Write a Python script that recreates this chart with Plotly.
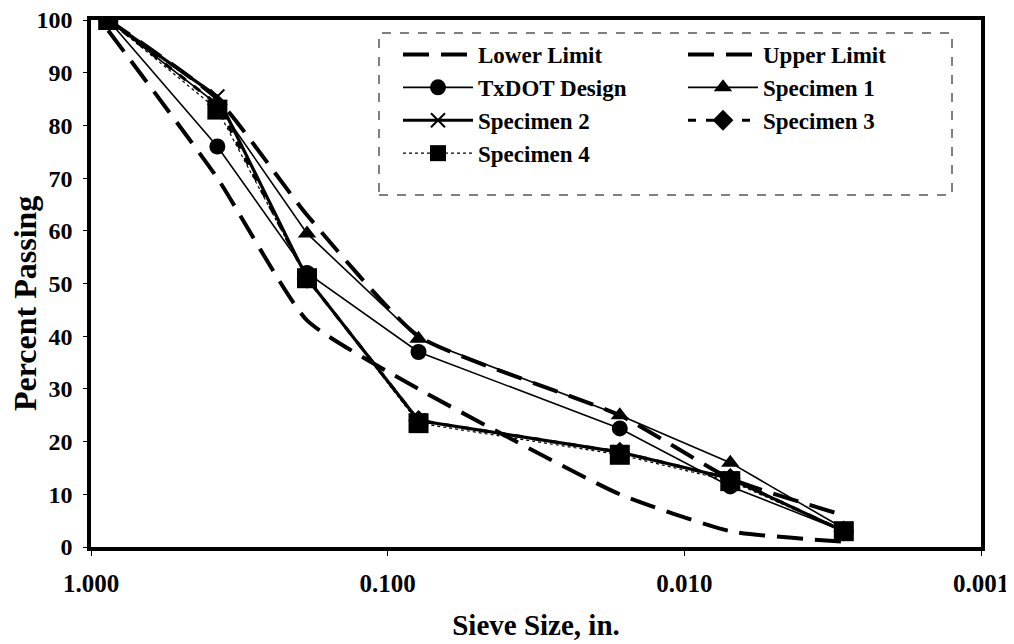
import plotly.graph_objects as go

# Sieve sizes (in.)
sieve_in = [0.875, 0.375, 0.187, 0.0787, 0.0165, 0.0070, 0.0029]

lower_limit = [98, 70, 43, 30, 10, 3, 1]
upper_limit = [100, 85, 63, 40, 25, 13, 6]
txdot_design = [100, 76, 52, 37, 22.5, 11.5, 3]
specimen_1 = [100, 84, 59.5, 39.5, 25, 16, 3.5]
specimen_2 = [100, 85.5, 51, 24, 18, 13, 3]
specimen_3 = [100, 84, 51, 24, 18, 13, 3]
specimen_4 = [100, 83, 51, 23.5, 17.5, 12.5, 3]

x_ticks = [1.0, 0.1, 0.01, 0.001]
x_tick_text = ["1.000", "0.100", "0.010", "0.001"]

# page body has an 8px default margin; compensate so the plot lands where wanted
BODY = 8
SCR_W, SCR_H = 1014, 644
PL, PR, PT, PB = 91, 981, 20, 547          # plot area in screen pixels
W, H = SCR_W - BODY, SCR_H - BODY
ML, MT = PL - BODY, PT - BODY
MR, MB = W - (PR - BODY), H - (PB - BODY)
PW, PH = PR - PL, PB - PT

def px2paper_x(px):
    return (px - PL) / PW

def px2paper_y(py):
    return (PB - py) / PH

FONT = "Liberation Serif"
fig = go.Figure()

fig.add_trace(go.Scatter(x=sieve_in, y=lower_limit, name="Lower Limit", mode="lines", legend="legend",
                         line=dict(color="black", width=4, dash="26px,12px", shape="spline", smoothing=0.5)))
fig.add_trace(go.Scatter(x=sieve_in, y=upper_limit, name="Upper Limit", mode="lines", legend="legend2",
                         line=dict(color="black", width=4, dash="26px,12px", shape="spline", smoothing=0.5)))
fig.add_trace(go.Scatter(x=sieve_in, y=txdot_design, name="TxDOT Design", mode="lines+markers", legend="legend",
                         line=dict(color="black", width=1.6),
                         marker=dict(symbol="circle", size=16, color="black")))
fig.add_trace(go.Scatter(x=sieve_in, y=specimen_1, name="Specimen 1", mode="lines+markers", legend="legend2",
                         line=dict(color="black", width=1.6),
                         marker=dict(symbol="triangle-up", size=16, color="black")))
fig.add_trace(go.Scatter(x=sieve_in, y=specimen_2, name="Specimen 2", mode="lines+markers", legend="legend",
                         line=dict(color="black", width=3.2),
                         marker=dict(symbol="x-thin", size=14, color="black",
                                     line=dict(color="black", width=2))))
fig.add_trace(go.Scatter(x=sieve_in, y=specimen_3, name="Specimen 3", mode="lines+markers", legend="legend2",
                         line=dict(color="black", width=3.2, dash="8px,10px"),
                         marker=dict(symbol="diamond", size=16, color="black")))
fig.add_trace(go.Scatter(x=sieve_in, y=specimen_4, name="Specimen 4", mode="lines+markers", legend="legend",
                         line=dict(color="black", width=1.2, dash="dot"),
                         marker=dict(symbol="square", size=20, color="black")))

legend_common = dict(
    orientation="v", xanchor="left", yanchor="top", itemwidth=70,
    font=dict(family=FONT, size=23, color="black", weight="bold"),
    bgcolor="rgba(255,255,255,0)", borderwidth=0, tracegroupgap=0,
)

fig.update_layout(
    width=W, height=H,
    margin=dict(l=ML, r=MR, t=MT, b=MB, autoexpand=False),
    paper_bgcolor="white", plot_bgcolor="white",
    font=dict(family=FONT, color="black", size=20, weight="bold"),
    showlegend=True,
    legend=dict(x=px2paper_x(398), y=px2paper_y(33), **legend_common),
    legend2=dict(x=px2paper_x(683), y=px2paper_y(33), **legend_common),
    shapes=[dict(type="rect", xref="paper", yref="paper",
                 x0=px2paper_x(379), x1=px2paper_x(952), y0=px2paper_y(195), y1=px2paper_y(33),
                 line=dict(color="black", width=1, dash="dash"), fillcolor="rgba(0,0,0,0)", layer="above")],
    annotations=[dict(text="Percent Passing", textangle=-90, xref="paper", yref="paper",
                      x=px2paper_x(25), y=px2paper_y(304), xanchor="center", yanchor="middle",
                      showarrow=False, font=dict(family=FONT, size=32, weight="bold", color="black"))],
)

fig.update_xaxes(
    type="log", range=[0, -3], tickvals=x_ticks, ticktext=x_tick_text,
    showgrid=False, zeroline=False,
    showline=True, linewidth=3.5, linecolor="black", mirror=True,
    ticks="outside", ticklen=5, tickwidth=1, tickcolor="black",
    tickfont=dict(family=FONT, size=25, weight="bold"), ticklabelstandoff=6,
    ticklabeloverflow="allow",
    title=dict(text="Sieve Size, in.", font=dict(family=FONT, size=29, weight="bold"), standoff=20),
)
fig.update_yaxes(
    range=[0, 100], dtick=10, tick0=0,
    showgrid=False, zeroline=False,
    showline=True, linewidth=3.5, linecolor="black", mirror=True,
    ticks="outside", ticklen=4, tickwidth=1, tickcolor="black",
    tickfont=dict(family=FONT, size=24, weight="bold"), ticklabelstandoff=6,
    ticklabeloverflow="allow",
)

fig.write_html("out.html")
